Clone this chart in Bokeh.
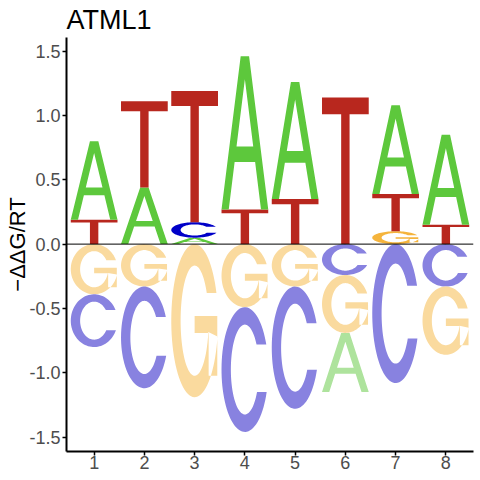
import numpy as np
from bokeh.plotting import figure
from bokeh.models import Range1d, FixedTicker, NumeralTickFormatter, Span, ColumnDataSource
from bokeh.embed import file_html
from bokeh.resources import INLINE

positions = [1, 2, 3, 4, 5, 6, 7, 8]
energy_A = [0.61, 0.44, 0.05, 1.19, 0.91, -0.46, 0.69, 0.70]
energy_C = [-0.41, -0.79, 0.12, -0.97, -0.95, -0.24, -1.08, -0.33]
energy_G = [-0.39, -0.33, -1.19, -0.49, -0.33, -0.45, 0.10, -0.53]
energy_T = [0.19, 0.67, 1.02, 0.27, 0.35, 1.14, 0.29, 0.15]
x_ticks = [1, 2, 3, 4, 5, 6, 7, 8]
y_ticks = [-1.5, -1.0, -0.5, 0.0, 0.5, 1.0, 1.5]
title_text = "ATML1"
y_label = "\u2212\u0394\u0394G/RT"

pos_colors = {"A": "#5DC83C", "C": "#0000C8", "G": "#F5B43C", "T": "#B8271E"}
neg_colors = {"A": "#AEE39D", "C": "#8882E0", "G": "#FADA9E", "T": "#DC938F"}

# ---- letter outlines in a unit box ----
def ell(cx, cy, rx, ry, t0, t1, n=80):
    t = np.linspace(t0, t1, n)
    return list(cx + rx * np.cos(t)), list(cy + ry * np.sin(t))

def shape_A():
    ext_x = [0, 0.41, 0.59, 1, 0.845, 0.7192, 0.2808, 0.155]
    ext_y = [0, 1, 1, 0, 0, 0.31, 0.31, 0]
    hole_x = [0.3214, 0.5, 0.6786]
    hole_y = [0.41, 0.85, 0.41]
    return [([ext_x, hole_x], [ext_y, hole_y])]

def shape_C():
    rxo, ryo, rxi, ryi = 0.5, 0.5, 0.30, 0.36
    yt, yb = 0.70, 0.32
    to = np.arcsin((yt - 0.5) / ryo)
    bo = 2 * np.pi + np.arcsin((yb - 0.5) / ryo)
    ti = np.arcsin((yt - 0.5) / ryi)
    bi = 2 * np.pi + np.arcsin((yb - 0.5) / ryi)
    ox, oy = ell(0.5, 0.5, rxo, ryo, to, bo)
    ix, iy = ell(0.5, 0.5, rxi, ryi, bi, ti)
    return [([ox + ix], [oy + iy])]

def shape_G():
    rxo, ryo, rxi, ryi = 0.5, 0.5, 0.30, 0.36
    yt = 0.68
    to = np.arcsin((yt - 0.5) / ryo)
    ti = np.arcsin((yt - 0.5) / ryi)
    e = 2 * np.pi - np.radians(12)
    ox, oy = ell(0.5, 0.5, rxo, ryo, to, e)
    ix, iy = ell(0.5, 0.5, rxi, ryi, e, ti)
    bar_x = [0.5, 0.985, 0.985, 0.80, 0.80, 0.5]
    bar_y = [0.53, 0.53, 0.14, 0.14, 0.42, 0.42]
    return [([ox + ix], [oy + iy]), ([bar_x], [bar_y])]

def shape_T():
    x = [0.41, 0.59, 0.59, 1, 1, 0, 0, 0.41]
    y = [0, 0, 0.886, 0.886, 1, 1, 0.886, 0.886]
    return [([x], [y])]

shapes = {"A": shape_A(), "C": shape_C(), "G": shape_G(), "T": shape_T()}
half_w = 0.465

xs_all, ys_all, colors = [], [], []

def place(letter, pos, y0, y1, color):
    polys_x, polys_y = [], []
    for rings_x, rings_y in shapes[letter]:
        polys_x.append([[pos - half_w + 2 * half_w * u for u in rx] for rx in rings_x])
        polys_y.append([[y0 + (y1 - y0) * v for v in ry] for ry in rings_y])
    xs_all.append(polys_x)
    ys_all.append(polys_y)
    colors.append(color)

for i, pos in enumerate(positions):
    vals = {"A": energy_A[i], "C": energy_C[i], "G": energy_G[i], "T": energy_T[i]}
    up = sorted([(v, l) for l, v in vals.items() if v > 0])
    y0 = 0.0
    for v, l in up:
        place(l, pos, y0, y0 + v, pos_colors[l])
        y0 += v
    down = sorted([(-v, l) for l, v in vals.items() if v < 0])
    y0 = 0.0
    for m, l in down:
        place(l, pos, y0 - m, y0, neg_colors[l])
        y0 -= m

src = ColumnDataSource(dict(xs=xs_all, ys=ys_all, color=colors))

p = figure(frame_width=407, frame_height=414,
           x_range=Range1d(0.45, 8.55), y_range=Range1d(-1.612, 1.606),
           output_backend="svg", toolbar_location=None,
           min_border_left=66, min_border_right=7, min_border_top=37, min_border_bottom=29,
           title=title_text)
p.multi_polygons(xs="xs", ys="ys", fill_color="color", line_color=None, source=src)
p.add_layout(Span(location=0, dimension="width", line_color="black", line_width=1))

p.title.text_font = "Liberation Sans"
p.title.text_font_size = "27px"
p.title.text_font_style = "normal"
p.title.text_color = "black"
p.title.standoff = 5
p.title.offset = 0

p.outline_line_color = None
p.xgrid.visible = False
p.ygrid.visible = False

for ax in (p.xaxis[0], p.yaxis[0]):
    ax.axis_line_color = "black"
    ax.axis_line_width = 2
    ax.major_tick_line_color = "black"
    ax.major_tick_line_width = 1.5
    ax.major_tick_out = 4
    ax.major_tick_in = 0
    ax.minor_tick_line_color = None
    ax.major_label_text_font = "Liberation Sans"
    ax.major_label_text_font_size = "18px"
    ax.major_label_text_color = "#4D4D4D"
    ax.major_label_standoff = 2

p.xaxis.major_label_standoff = 0
p.xaxis.ticker = FixedTicker(ticks=x_ticks)
p.yaxis.ticker = FixedTicker(ticks=y_ticks)
p.yaxis.formatter = NumeralTickFormatter(format="0.0")
p.yaxis.axis_label = y_label
p.yaxis.axis_label_text_font = "Liberation Sans"
p.yaxis.axis_label_text_font_size = "22px"
p.yaxis.axis_label_text_font_style = "normal"
p.yaxis.axis_label_text_color = "black"
p.yaxis.axis_label_standoff = -4

open("out.html", "w").write(file_html(p, INLINE))
